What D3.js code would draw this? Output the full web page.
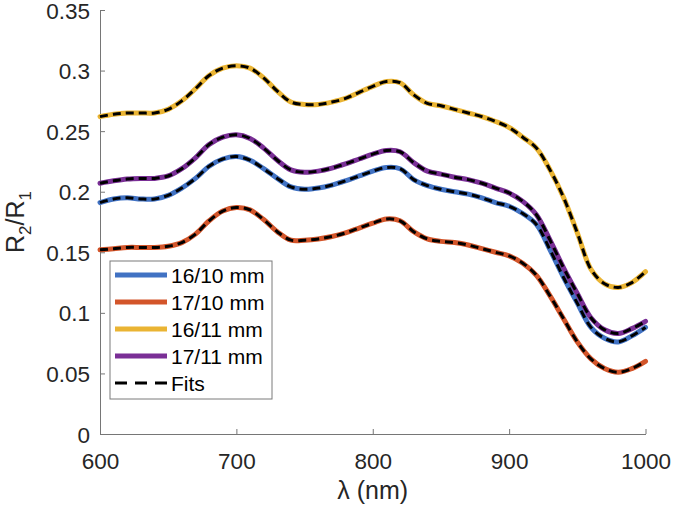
<!DOCTYPE html>
<html><head><meta charset="utf-8">
<script src="https://cdn.jsdelivr.net/npm/d3@7"></script>
<style>
html,body{margin:0;padding:0;background:#fff;}
svg{display:block;font-family:"Liberation Sans",Arial,Helvetica,sans-serif;}
</style></head>
<body><svg id="c" width="673" height="511"></svg>
<script>
const wavelengths = d3.range(600, 1001, 10);
const seriesNames = ["16/10 mm", "17/10 mm", "16/11 mm", "17/11 mm"];
const s16_10 = [0.191,0.194,0.195,0.194,0.194,0.197,0.203,0.211,0.221,0.227,0.229,0.226,0.219,0.211,0.204,0.202,0.203,0.2055,0.209,0.213,0.217,0.220,0.219,0.210,0.205,0.202,0.200,0.198,0.195,0.191,0.188,0.182,0.173,0.152,0.129,0.108,0.088,0.079,0.076,0.081,0.088];
const s17_10 = [0.152,0.153,0.154,0.154,0.154,0.155,0.158,0.165,0.176,0.184,0.187,0.185,0.177,0.167,0.160,0.160,0.161,0.163,0.166,0.170,0.174,0.1775,0.176,0.167,0.161,0.159,0.158,0.156,0.153,0.150,0.147,0.141,0.131,0.114,0.095,0.076,0.062,0.054,0.051,0.054,0.060];
const s16_11 = [0.262,0.264,0.265,0.265,0.265,0.268,0.275,0.285,0.296,0.302,0.304,0.302,0.294,0.283,0.274,0.272,0.272,0.274,0.277,0.282,0.287,0.291,0.290,0.280,0.273,0.271,0.268,0.265,0.262,0.258,0.253,0.245,0.236,0.218,0.195,0.166,0.136,0.124,0.121,0.125,0.134];
const s17_11 = [0.207,0.209,0.2105,0.211,0.211,0.213,0.219,0.228,0.239,0.245,0.247,0.244,0.236,0.226,0.218,0.216,0.217,0.2195,0.223,0.227,0.231,0.234,0.233,0.224,0.217,0.2145,0.212,0.210,0.207,0.203,0.199,0.192,0.181,0.160,0.137,0.116,0.096,0.086,0.083,0.087,0.093];
const xTicks = [600, 700, 800, 900, 1000];
const yTicks = [0, 0.05, 0.1, 0.15, 0.2, 0.25, 0.3, 0.35];
const colors = ["#4172c3", "#d3552a", "#eab433", "#7a2f96"];
const allSeries = [s16_10, s17_10, s16_11, s17_11];

const svg = d3.select("#c");
const L = 100, R = 645.5, T = 10, B = 434;
const x = d3.scaleLinear().domain([600, 1000]).range([L, R]);
const y = d3.scaleLinear().domain([0, 0.35]).range([B, T]);
const axisColor = "#767676", textColor = "#262626";

// axes
const gx = svg.append("g").attr("transform", `translate(0,${B})`)
  .call(d3.axisBottom(x).tickValues(xTicks).tickFormat(d3.format("d")).tickSizeInner(-5).tickSizeOuter(0));
const gy = svg.append("g").attr("transform", `translate(${L},0)`)
  .call(d3.axisLeft(y).tickValues(yTicks).tickFormat(d => d === 0 ? "0" : String(+d.toFixed(2))).tickSizeInner(-5).tickSizeOuter(0).tickPadding(10));
[gx, gy].forEach(g => {
  g.select(".domain").attr("stroke", axisColor).attr("stroke-width", 1);
  g.selectAll(".tick line").attr("stroke", axisColor);
  g.selectAll(".tick text").attr("fill", textColor).style("font-size", "22.5px");
});
gx.selectAll(".tick text").attr("y", 35).attr("dy", 0);
gy.selectAll(".tick text").attr("dy", "0.36em");

const line = d3.line().x((d, i) => x(wavelengths[i])).y(d => y(d)).curve(d3.curveCatmullRom.alpha(0.5));
const plot = svg.append("g");
allSeries.forEach((s, i) => {
  plot.append("path").attr("d", line(s)).attr("fill", "none")
    .attr("stroke", colors[i]).attr("stroke-width", 5).attr("stroke-linecap", "round").attr("stroke-linejoin", "round");
});
allSeries.forEach((s, i) => {
  plot.append("path").attr("d", line(s)).attr("fill", "none")
    .attr("stroke", "#000").attr("stroke-width", 3).attr("stroke-dasharray", "8,5");
});

// labels
svg.append("text").attr("x", (L + R) / 2).attr("y", 499).attr("text-anchor", "middle")
  .attr("fill", textColor).style("font-size", "25px").text("λ (nm)");
const yl = svg.append("text").attr("transform", `translate(24,${(T + B) / 2}) rotate(-90)`)
  .attr("text-anchor", "middle").attr("fill", textColor).style("font-size", "25px");
yl.append("tspan").text("R");
yl.append("tspan").attr("dy", 7).style("font-size", "17px").text("2");
yl.append("tspan").attr("dy", -7).text("/R");
yl.append("tspan").attr("dy", 7).style("font-size", "17px").text("1");

// legend
const lgX = 110, lgW = 162, rowH = 27, lgBottom = 399;
const names = seriesNames.concat(["Fits"]);
const lgTop = lgBottom - rowH * names.length - 3;
const lg = svg.append("g");
lg.append("rect").attr("x", lgX).attr("y", lgTop).attr("width", lgW).attr("height", lgBottom - lgTop)
  .attr("fill", "#fff").attr("stroke", "#7a7a7a").attr("stroke-width", 1);
names.forEach((n, i) => {
  const cy = lgTop + 14 + i * rowH;
  const ln = lg.append("line").attr("x1", 115).attr("x2", 167).attr("y1", cy).attr("y2", cy);
  if (i < 4) ln.attr("stroke", colors[i]).attr("stroke-width", 5);
  else ln.attr("stroke", "#000").attr("stroke-width", 3).attr("stroke-dasharray", "12,8");
  lg.append("text").attr("x", 171).attr("y", cy).attr("dy", "0.36em").attr("fill", "#000")
    .style("font-size", "21px").text(n);
});
</script></body></html>
